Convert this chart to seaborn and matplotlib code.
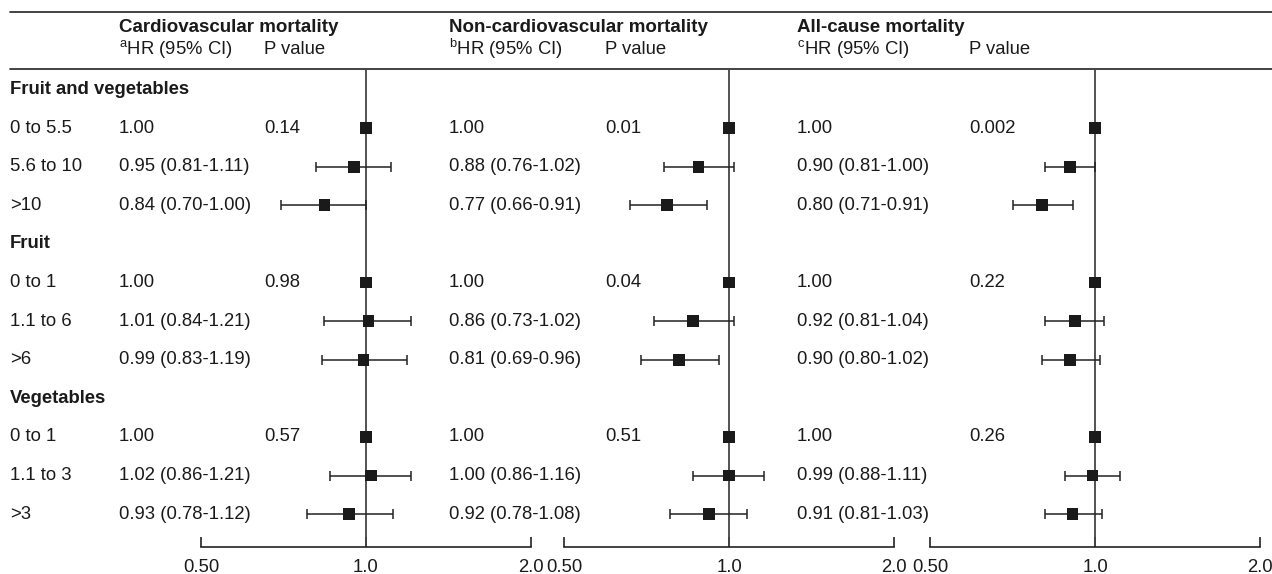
import numpy as np
import pandas as pd
import matplotlib
matplotlib.use("Agg")
import matplotlib.pyplot as plt
import seaborn as sns

sns.set_theme(style="white")
plt.rcParams['font.family'] = ['Liberation Sans', 'DejaVu Sans']
plt.rcParams['mathtext.fontset'] = 'custom'
plt.rcParams['mathtext.rm'] = 'Liberation Sans'

# ---------------- data ----------------
outcomes = ["Cardiovascular mortality", "Non-cardiovascular mortality", "All-cause mortality"]
hr_heads = ["a", "b", "c"]
groups = ["Fruit and vegetables", "Fruit", "Vegetables"]
levels = [["0 to 5.5", "5.6 to 10", ">10"],
          ["0 to 1", "1.1 to 6", ">6"],
          ["0 to 1", "1.1 to 3", ">3"]]

hr_cv = [1.00, 0.95, 0.84, 1.00, 1.01, 0.99, 1.00, 1.02, 0.93]
lo_cv = [np.nan, 0.81, 0.70, np.nan, 0.84, 0.83, np.nan, 0.86, 0.78]
hi_cv = [np.nan, 1.11, 1.00, np.nan, 1.21, 1.19, np.nan, 1.21, 1.12]
p_cv = ["0.14", "0.98", "0.57"]

hr_ncv = [1.00, 0.88, 0.77, 1.00, 0.86, 0.81, 1.00, 1.00, 0.92]
lo_ncv = [np.nan, 0.76, 0.66, np.nan, 0.73, 0.69, np.nan, 0.86, 0.78]
hi_ncv = [np.nan, 1.02, 0.91, np.nan, 1.02, 0.96, np.nan, 1.16, 1.08]
p_ncv = ["0.01", "0.04", "0.51"]

hr_all = [1.00, 0.90, 0.80, 1.00, 0.92, 0.90, 1.00, 0.99, 0.91]
lo_all = [np.nan, 0.81, 0.71, np.nan, 0.81, 0.80, np.nan, 0.88, 0.81]
hi_all = [np.nan, 1.00, 0.91, np.nan, 1.04, 1.02, np.nan, 1.11, 1.03]
p_all = ["0.002", "0.22", "0.26"]

xticks = [0.5, 1.0, 2.0]
xticklabels = ["0.50", "1.0", "2.0"]

series = [(hr_cv, lo_cv, hi_cv, p_cv), (hr_ncv, lo_ncv, hi_ncv, p_ncv), (hr_all, lo_all, hi_all, p_all)]

# row index: group header rows at 0, 4, 8; level rows after each
rows = []
for g, grp in enumerate(groups):
    for k, lev in enumerate(levels[g]):
        rows.append(dict(group=g, level=lev, row=g * 4 + 1 + k))
df = pd.DataFrame(rows)

# ---------------- layout (pixels) ----------------
W, H = 1272, 574
fig = plt.figure(figsize=(W / 100, H / 100), dpi=100)
FS = 13.3
TXT = '#1a1a1a'

row0, step = 89.5, 38.6
def ypix(r):
    return row0 + step * r

ax_t = fig.add_axes([0, 0, 1, 1])
ax_t.set_xlim(0, W)
ax_t.set_ylim(H, 0)
ax_t.axis('off')

ax_t.plot([10, W], [12, 12], color='#222', lw=1.2)
ax_t.plot([10, W], [69, 69], color='#222', lw=1.2)

col_hr = [119, 449, 797]
col_p = [264, 605, 969]
panel_x = [(201, 531), (564, 894), (930, 1260)]

for j, name in enumerate(outcomes):
    ax_t.text(col_hr[j], 28, name, fontsize=FS + 0.2, fontweight='bold', va='center', color=TXT)
    ax_t.text(col_hr[j], 49, r"$^{\mathrm{%s}}$HR (95%% CI)" % hr_heads[j], fontsize=FS, va='center', color=TXT)
    ax_t.text(col_p[j], 49, "P value", fontsize=FS, va='center', color=TXT)

for g, grp in enumerate(groups):
    ax_t.text(10, ypix(g * 4), grp, fontsize=FS, fontweight='bold', va='center', color=TXT)

for i, r in df.iterrows():
    ax_t.text(10, ypix(r['row']), r['level'], fontsize=FS, va='center', color=TXT)
    for j, (hr, lo, hi, p) in enumerate(series):
        if np.isnan(lo[i]):
            s = f"{hr[i]:.2f}"
            ax_t.text(col_p[j], ypix(r['row']), p[r['group']], fontsize=FS, va='center', color=TXT)
        else:
            s = f"{hr[i]:.2f} ({lo[i]:.2f}-{hi[i]:.2f})"
        ax_t.text(col_hr[j], ypix(r['row']), s, fontsize=FS, va='center', color=TXT)

# ---------------- forest panels ----------------
top_px, bot_px = 69, 547
ylim_top = (top_px - row0) / step
ylim_bot = (bot_px - row0) / step

for j, (hr, lo, hi, p) in enumerate(series):
    x0, x1 = panel_x[j]
    ax = fig.add_axes([x0 / W, 1 - bot_px / H, (x1 - x0) / W, (bot_px - top_px) / H])
    ax.patch.set_alpha(0)
    ax.set_xscale('log')
    ax.set_xlim(0.5, 2.0)
    ax.set_ylim(ylim_bot, ylim_top)
    d = df.assign(hr=hr, lo=lo, hi=hi)
    ax.axvline(1.0, color='#444', lw=1.3, zorder=1)
    ci = d.dropna()
    ax.errorbar(ci['hr'], ci['row'], xerr=[ci['hr'] - ci['lo'], ci['hi'] - ci['hr']],
                fmt='none', ecolor='#222', elinewidth=1.1, capsize=3.5, capthick=1.1, zorder=2)
    sns.scatterplot(data=d, x='hr', y='row', marker='s', s=70, color='#1a1a1a',
                    edgecolor='none', ax=ax, zorder=3, legend=False)
    for side in ['top', 'right', 'left']:
        ax.spines[side].set_visible(False)
    ax.spines['bottom'].set_color('#222')
    ax.spines['bottom'].set_linewidth(1.2)
    ax.set_xticks(xticks)
    ax.set_xticklabels(xticklabels)
    ax.xaxis.set_minor_locator(matplotlib.ticker.NullLocator())
    ax.tick_params(axis='x', direction='in', length=7, width=1.2, color='#222',
                   labelsize=FS, labelcolor=TXT, pad=9, bottom=True)
    ax.set_yticks([])
    ax.set_xlabel('')
    ax.set_ylabel('')

fig.savefig('out.png', dpi=100)
